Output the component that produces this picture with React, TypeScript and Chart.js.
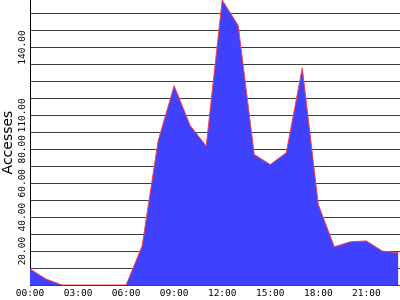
import React, { useEffect, useRef } from 'react';
import { Chart, registerables } from 'chart.js';

Chart.register(...registerables);

const hours = [0, 1, 2, 3, 4, 5, 6, 7, 8, 9, 10, 11, 12, 13, 14, 15, 16, 17, 18, 19, 20, 21, 22, 23];
const accesses = [9.5, 3.5, 0, 0, 0, 0, 0, 23, 85, 117.5, 94, 82, 168, 153, 77, 71, 78, 128, 47.5, 22.5, 25.5, 26, 20, 19];

const xTickHours = [0, 3, 6, 9, 12, 15, 18, 21];
const xTickLabels = ['00:00', '03:00', '06:00', '09:00', '12:00', '15:00', '18:00', '21:00'];
const yTickValues = [20, 40, 60, 80, 100, 140];
const yTickLabels = ['20.00', '40.00', '60.00', '80.00', '110.00', '140.00'];

const monoFont = { family: '"DejaVu Sans Mono", monospace', size: 9.5 };

export default function App() {
  const ref = useRef<HTMLCanvasElement>(null);

  useEffect(() => {
    const prevMargin = document.body.style.margin;
    document.body.style.margin = '0';
    const chart = new Chart(ref.current as HTMLCanvasElement, {
      type: 'line',
      data: {
        datasets: [
          {
            data: hours.map((h, i) => ({ x: h, y: accesses[i] })),
            borderColor: '#ff4040',
            backgroundColor: '#4040ff',
            borderWidth: 1,
            fill: 'origin',
            pointRadius: 0,
            tension: 0,
          },
        ],
      },
      options: {
        animation: false,
        responsive: true,
        maintainAspectRatio: false,
        layout: { padding: 0 },
        plugins: { legend: { display: false }, tooltip: { enabled: false } },
        scales: {
          x: {
            type: 'linear',
            min: 0,
            max: 23.1,
            z: 1,
            grid: { display: false, drawTicks: false },
            border: { display: false },
            ticks: {
              stepSize: 3,
              includeBounds: false,
              autoSkip: false,
              maxRotation: 0,
              minRotation: 0,
              padding: 3,
              color: '#000',
              font: monoFont,
              callback: (v: any) => {
                const i = xTickHours.indexOf(Number(v));
                return i >= 0 ? xTickLabels[i] : '';
              },
            },
            afterFit: (s: any) => {
              s.height = 15;
              s.paddingLeft = 0;
              s.paddingRight = 0;
            },
          },
          y: {
            type: 'linear',
            min: 0,
            max: 168,
            z: 1,
            grid: { color: '#404040', lineWidth: 1, drawTicks: false },
            border: { display: true, color: '#000', width: 1 },
            ticks: {
              stepSize: 10,
              includeBounds: false,
              autoSkip: false,
              minRotation: 90,
              maxRotation: 90,
              crossAlign: 'center',
              padding: -9.5,
              color: '#000',
              font: monoFont,
              callback: (v: any) => {
                const i = yTickValues.indexOf(Number(v));
                return i >= 0 ? yTickLabels[i] : '';
              },
            },
            title: {
              display: true,
              text: 'Accesses',
              color: '#000',
              font: { family: '"DejaVu Sans", sans-serif', size: 14 },
              padding: 0,
            },
            afterFit: (s: any) => {
              s.width = 30;
              s.paddingTop = 0;
              s.paddingBottom = 0;
            },
          },
        },
      },
    } as any);
    return () => {
      chart.destroy();
      document.body.style.margin = prevMargin;
    };
  }, []);

  return (
    <div style={{ position: 'fixed', left: 0, top: 0, width: 400, height: 300 }}>
      <canvas ref={ref} />
    </div>
  );
}
